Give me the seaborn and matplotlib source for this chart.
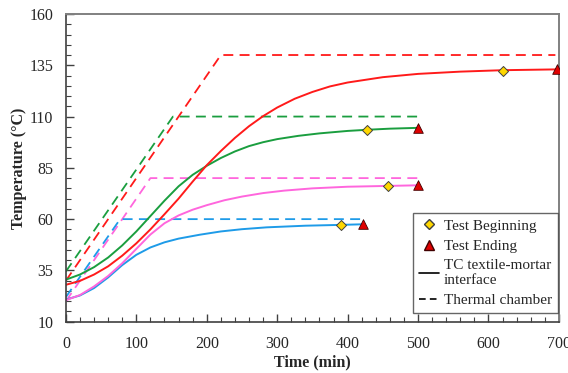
import matplotlib
matplotlib.use("Agg")
import matplotlib.pyplot as plt
from matplotlib.lines import Line2D
from matplotlib.ticker import MultipleLocator
import seaborn as sns
import pandas as pd

# ---- data ----
red_tc_t = [0, 20, 40, 60, 80, 100, 120, 140, 160, 180, 200, 220, 240, 260, 280, 300, 325, 350, 375, 400, 450, 500, 560, 620, 697]
red_tc_y = [28, 29.9, 33, 37, 42.2, 48.2, 55, 62.4, 70, 78.3, 86.3, 93.2, 99.6, 105.3, 110.2, 114.4, 118.7, 122, 124.7, 126.6, 129.2, 130.8, 131.9, 132.6, 133]

green_tc_t = [0, 20, 40, 60, 80, 100, 120, 140, 160, 180, 200, 220, 240, 260, 280, 300, 330, 360, 400, 430, 460, 500]
green_tc_y = [30.5, 33, 36.6, 41.3, 47.2, 54, 61.5, 69, 76, 81.6, 86, 89.8, 93, 95.6, 97.5, 99, 100.6, 101.8, 103, 103.6, 104.1, 104.5]

pink_tc_t = [0, 20, 40, 60, 80, 100, 120, 140, 160, 180, 200, 225, 250, 280, 310, 350, 400, 458, 500]
pink_tc_y = [20.5, 23, 27.2, 32.3, 38.5, 45.5, 52.5, 58, 61.8, 64.6, 66.8, 69.2, 71, 72.7, 73.9, 75, 75.8, 76.2, 76.5]

blue_tc_t = [0, 20, 40, 60, 80, 100, 120, 140, 160, 190, 220, 250, 285, 340, 390, 422]
blue_tc_y = [20.8, 22.8, 26.4, 31.6, 37.6, 42.6, 46.2, 48.7, 50.5, 52.4, 54, 55.1, 56, 56.8, 57.2, 57.5]

red_ch_t = [0, 220, 695]
red_ch_y = [30, 140, 140]
green_ch_t = [0, 152, 500]
green_ch_y = [34.5, 110, 110]
pink_ch_t = [0, 120, 500]
pink_ch_y = [20, 80, 80]
blue_ch_t = [0, 77, 422]
blue_ch_y = [22, 60, 60]

begin_t = [620, 428, 458, 390]
begin_y = [132.4, 103.5, 76.2, 57.2]
end_t = [697, 500, 500, 422]
end_y = [133, 104.5, 76.5, 57.5]

x_ticks = [0, 100, 200, 300, 400, 500, 600, 700]
y_ticks = [10, 35, 60, 85, 110, 135, 160]

RED = "#ff1a1a"
GREEN = "#1a9e3f"
PINK = "#ff66dd"
BLUE = "#1e9be8"

sns.set_style("white")
plt.rcParams["font.family"] = ["Liberation Serif", "DejaVu Serif"]

fig = plt.figure(figsize=(5.68, 3.73), dpi=100)
ax = fig.add_axes([0.116, 0.1375, 0.868, 0.825])

chambers = [(pink_ch_t, pink_ch_y, PINK), (green_ch_t, green_ch_y, GREEN),
            (red_ch_t, red_ch_y, RED), (blue_ch_t, blue_ch_y, BLUE)]
for t, y, c in chambers:
    df = pd.DataFrame({"t": t, "y": y})
    sns.lineplot(data=df, x="t", y="y", ax=ax, color=c, lw=1.3,
                 linestyle=(0, (5.5, 3.5)), estimator=None, sort=False)

curves = [(blue_tc_t, blue_tc_y, BLUE), (pink_tc_t, pink_tc_y, PINK),
          (green_tc_t, green_tc_y, GREEN), (red_tc_t, red_tc_y, RED)]
for t, y, c in curves:
    df = pd.DataFrame({"t": t, "y": y})
    sns.lineplot(data=df, x="t", y="y", ax=ax, color=c, lw=1.4,
                 estimator=None, sort=False)

sns.scatterplot(x=begin_t, y=begin_y, ax=ax, marker="D", s=26,
                color="#ffd700", edgecolor="#404040", linewidth=0.7, zorder=5)
sns.scatterplot(x=end_t, y=end_y, ax=ax, marker="^", s=48,
                color="#e00000", edgecolor="#400000", linewidth=0.6, zorder=5)

ax.set_xlim(0, 700)
ax.set_ylim(10, 160)
ax.set_xticks(x_ticks)
ax.set_yticks(y_ticks)
ax.xaxis.set_minor_locator(MultipleLocator(20))
ax.yaxis.set_minor_locator(MultipleLocator(5))
ax.tick_params(axis="both", which="major", direction="in", length=6, width=1,
               color="#404040", labelsize=11.5)
ax.tick_params(axis="x", which="major", pad=10)
ax.tick_params(axis="y", which="major", pad=9)
ax.tick_params(axis="both", which="minor", direction="in", length=3.5, width=0.8,
               color="#404040")
ax.tick_params(axis="x", which="both", bottom=True)
ax.tick_params(axis="y", which="both", left=True)
ax.set_xlabel("Time (min)", fontsize=11.5, fontweight="bold", labelpad=2)
ax.set_ylabel("Temperature (°C)", fontsize=11.5, fontweight="bold", labelpad=2)

for side in ["left", "bottom"]:
    ax.spines[side].set_color("#404040")
    ax.spines[side].set_linewidth(1.2)
for side in ["top", "right"]:
    ax.spines[side].set_color("#808080")
    ax.spines[side].set_linewidth(1.4)

handles = [
    Line2D([], [], marker="D", color="none", markerfacecolor="#ffd700",
           markeredgecolor="#404040", markersize=5),
    Line2D([], [], marker="^", color="none", markerfacecolor="#e00000",
           markeredgecolor="#400000", markersize=7),
    Line2D([], [], color="black", lw=1.2),
    Line2D([], [], color="black", lw=1.2, linestyle=(0, (4, 2.5))),
]
labels = ["Test Beginning", "Test Ending", "TC textile-mortar\ninterface", "Thermal chamber"]
leg = ax.legend(handles, labels, loc="lower right", bbox_to_anchor=(0.998, 0.028),
                borderaxespad=0.0,
                fontsize=11, frameon=True, fancybox=False, handlelength=1.3,
                handletextpad=0.3, borderpad=0.4, labelspacing=0.42)
for txt in leg.get_texts():
    txt.set_linespacing(1.15)
leg.get_frame().set_edgecolor("#404040")
leg.get_frame().set_linewidth(1.0)

fig.savefig("out.png", dpi=100)
